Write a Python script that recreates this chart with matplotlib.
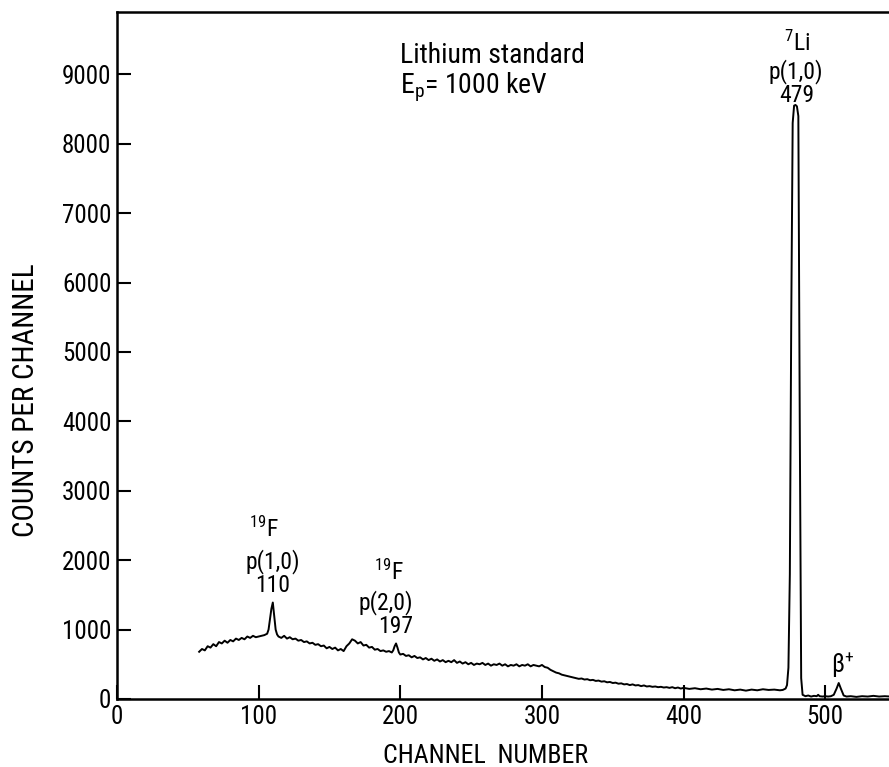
import matplotlib
matplotlib.use('Agg')
import matplotlib.pyplot as plt
from matplotlib import font_manager

# pick a narrow sans face, close to the technical lettering of the original
installed = {f.name for f in font_manager.fontManager.ttflist}
family = next((n for n in ['Liberation Sans Narrow', 'Roboto Condensed', 'Liberation Sans']
               if n in installed), 'DejaVu Sans')
plt.rcParams['font.family'] = [family, 'DejaVu Sans']
plt.rcParams['mathtext.fontset'] = 'custom'
plt.rcParams['mathtext.rm'] = family
plt.rcParams['mathtext.it'] = family

# spectrum (channel, counts)
channel = [58, 60, 62, 64, 66, 68, 70, 72, 74, 76, 78, 80, 82, 84, 86, 88, 90, 92, 94, 96,
           98, 100, 102, 104, 106, 107, 108, 109, 110, 111, 112, 113, 114, 116, 118, 120,
           122, 124, 126, 128, 130, 132, 134, 136, 138, 140, 142, 144, 146, 148, 150, 152,
           154, 156, 158, 160, 162, 164, 166, 168, 170, 172, 174, 176, 178, 180, 182, 184,
           186, 188, 190, 192, 194, 195, 196, 197, 198, 199, 200, 202, 204, 206, 208, 210,
           212, 214, 216, 218, 220, 222, 224, 226, 228, 230, 232, 234, 236, 238, 240, 242,
           244, 246, 248, 250, 252, 254, 256, 258, 260, 262, 264, 266, 268, 270, 272, 274,
           276, 278, 280, 282, 284, 286, 288, 290, 292, 294, 296, 298, 300, 302, 304, 306,
           308, 310, 312, 314, 316, 318, 320, 322, 324, 326, 328, 330, 332, 334, 336, 338,
           340, 342, 344, 346, 348, 350, 352, 354, 356, 358, 360, 362, 364, 366, 368, 370,
           372, 374, 376, 378, 380, 382, 384, 386, 388, 390, 392, 394, 396, 398, 400, 404,
           408, 412, 416, 420, 424, 428, 432, 436, 440, 444, 448, 452, 456, 460, 464, 468,
           470, 472, 473, 474, 475, 476, 477, 478, 479, 480, 481, 482, 483, 484, 486, 488,
           490, 492, 494, 495, 496, 498, 500, 502, 504, 506, 508, 509.5, 511, 513, 515, 518,
           522, 526, 530, 534, 538, 542, 546]
counts = [680, 720, 700, 760, 740, 790, 760, 820, 800, 840, 810, 850, 830, 870, 850, 880,
          860, 900, 880, 910, 890, 900, 910, 920, 940, 1000, 1150, 1300, 1390, 1200, 1000,
          930, 900, 880, 910, 870, 890, 860, 870, 840, 850, 820, 830, 800, 810, 780, 790,
          760, 770, 730, 750, 720, 740, 700, 720, 690, 760, 800, 860, 840, 800, 820, 770,
          780, 740, 750, 710, 720, 690, 700, 680, 690, 670, 700, 760, 800, 740, 670, 640,
          650, 620, 630, 600, 620, 590, 600, 570, 590, 560, 580, 550, 570, 540, 560, 530,
          550, 530, 560, 520, 540, 510, 530, 500, 520, 490, 510, 500, 520, 490, 510, 480,
          500, 490, 510, 480, 500, 470, 490, 480, 500, 470, 490, 480, 500, 470, 490, 480,
          470, 490, 460, 450, 420, 400, 380, 370, 350, 340, 330, 320, 310, 300, 290, 295,
          280, 285, 270, 275, 260, 265, 250, 255, 240, 245, 230, 235, 220, 225, 210, 215,
          200, 210, 195, 200, 185, 195, 180, 185, 175, 180, 170, 175, 165, 170, 160, 170,
          155, 165, 150, 160, 145, 155, 140, 150, 135, 145, 130, 140, 125, 135, 120, 135,
          125, 140, 130, 135, 125, 130, 150, 200, 450, 1800, 5500, 8300, 8550, 8560, 8540,
          8400, 4000, 300, 60, 40, 50, 35, 45, 40, 60, 40, 35, 40, 35, 40, 60, 150, 230,
          150, 50, 35, 40, 30, 40, 35, 45, 35, 40, 35]

xticks = [0, 100, 200, 300, 400, 500]
yticks = [0, 1000, 2000, 3000, 4000, 5000, 6000, 7000, 8000, 9000]

fig = plt.figure(figsize=(8.89, 7.67), dpi=100)
ax = fig.add_axes([0.1316, 0.0887, 0.8684, 0.8957])

ax.plot(channel, counts, color='black', lw=1.4)

ax.set_xlim(0, 545)
ax.set_ylim(0, 9900)
ax.set_xticks(xticks)
ax.set_yticks(yticks)
ax.tick_params(direction='in', length=10, width=1.5, labelsize=18, pad=4)
ax.spines['right'].set_visible(False)
for s in ['left', 'bottom', 'top']:
    ax.spines[s].set_linewidth(1.8)

ax.set_xlabel('CHANNEL  NUMBER', fontsize=18.5)
ax.xaxis.set_label_coords(0.478, -0.065)
ax.set_ylabel('COUNTS PER CHANNEL', fontsize=21)
ax.yaxis.set_label_coords(-0.100, 0.435)

ax.text(200, 9164, 'Lithium standard', fontsize=20, va='baseline')
ax.text(200, 8732, r'E$_\mathregular{p}$= 1000 keV', fontsize=20, va='baseline')

# peak labels
ax.text(480, 9450, r'$^\mathregular{7}$Li', fontsize=17, ha='center', va='center')
ax.text(479, 9040, 'p(1,0)', fontsize=17, ha='center', va='center')
ax.text(480, 8690, '479', fontsize=17, ha='center', va='center')

ax.text(104, 2440, r'$^\mathregular{19}$F', fontsize=17, ha='center', va='center')
ax.text(110, 1980, 'p(1,0)', fontsize=17, ha='center', va='center')
ax.text(110, 1630, '110', fontsize=17, ha='center', va='center')

ax.text(192, 1830, r'$^\mathregular{19}$F', fontsize=17, ha='center', va='center')
ax.text(190, 1390, 'p(2,0)', fontsize=17, ha='center', va='center')
ax.text(196.5, 1050, '197', fontsize=17, ha='center', va='center')

ax.text(512, 504, r'β$^\mathregular{+}$', fontsize=18, ha='center', va='center')

fig.savefig('out.png', dpi=100)
